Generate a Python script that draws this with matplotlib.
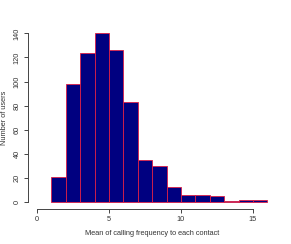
import matplotlib
matplotlib.use("Agg")
import matplotlib.pyplot as plt
import numpy as np

# histogram bins (mean calls per contact) and counts
bin_edges = list(range(1, 17))
counts = [21, 98, 124, 140, 126, 83, 35, 30, 13, 6, 6, 5, 1, 2, 2]
x_ticks = [0, 5, 10, 15]
y_ticks = [0, 20, 40, 60, 80, 100, 120, 140]

plt.rcParams["font.family"] = ["Liberation Sans", "DejaVu Sans"]
plt.rcParams["font.size"] = 5.3

fig = plt.figure(figsize=(2.91, 2.44), dpi=100)
ax = fig.add_axes([0.0955, 0.143, 0.855, 0.748])

ax.hist(np.array(bin_edges[:-1]) + 0.5, bins=bin_edges, weights=counts,
        color="#000080", edgecolor="#dc1e46", linewidth=0.6)

# R-like axes: limits padded 4%, axis lines only between end ticks
ax.set_xlim(-0.64, 16.64)
ax.set_ylim(-5.6, 145.6)
for s in ["top", "right"]:
    ax.spines[s].set_visible(False)
ax.spines["left"].set_bounds(0, 140)
ax.spines["bottom"].set_bounds(0, 15)
for s in ["left", "bottom"]:
    ax.spines[s].set_linewidth(0.7)
    ax.spines[s].set_color("#444444")
ax.set_xticks(x_ticks)
ax.set_yticks(y_ticks)
ax.set_yticklabels([str(v) for v in y_ticks], rotation=90, va="center")
ax.tick_params(length=3, width=0.7, color="#444444", labelcolor="#333333", pad=2)

ax.set_xlabel("Mean of calling frequency to each contact", color="#333333", labelpad=5)
ax.set_ylabel("Number of users", color="#333333", labelpad=4)

fig.savefig("out.png", dpi=100)
